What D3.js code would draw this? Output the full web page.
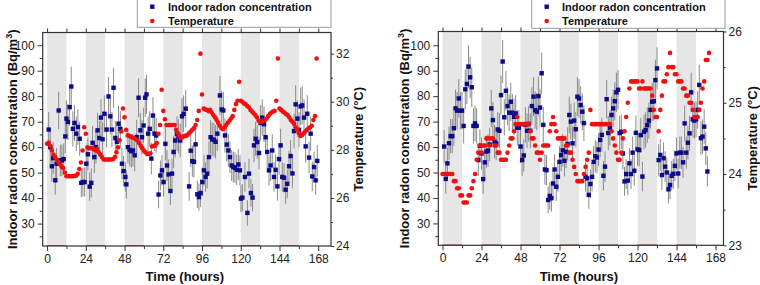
<!DOCTYPE html>
<html><head><meta charset="utf-8">
<script src="https://cdn.jsdelivr.net/npm/d3@7"></script>
<style>
body{margin:0;background:#fff}
svg{display:block}
text{font-family:"Liberation Sans",Arial,Helvetica,sans-serif}
</style>
</head><body>
<svg id="chart" width="760" height="285"></svg>
<script>
// ---------------- DATA ----------------
const timeTicks = [0, 24, 48, 72, 96, 120, 144, 168];
const radonTicks = [30, 40, 50, 60, 70, 80, 90, 100];
const tempTicksLeft = [24, 26, 28, 30, 32];
const tempTicksRight = [23, 24, 25, 26];
const nightBands = [[0,12],[24,36],[48,60],[72,84],[96,108],[120,132],[144,156]];
const legendLabels = ["Indoor radon concentration", "Temperature"];

// Panel A (left)
const radonHoursA = [1,2,3,3.8,5.1,5.9,7.2,8.2,9.2,10.3,11.3,12,12.9,14,15,16,17,18.1,19.1,20.2,
 21.2,22.2,23.3,24.3,25.3,26.4,27.4,28.2,29.3,30.3,31.3,32.4,33.4,34.4,35.5,36.9,38.1,39.2,40.2,41.2,
 42.3,43.3,44.3,45.4,46.4,47.4,48.5,49.1,50.1,51.2,52.2,53.2,54.3,55.5,56.7,57.8,58.8,59.8,60.8,61.6,
 62.6,63.6,64.6,65.6,66.6,67.6,69.1,70.2,71.2,72.2,73.3,74.3,75.3,76.4,77.4,78.4,79.4,80.5,81.4,82.5,
 83.6,84.6,85.9,88,89,90,91,92,93.1,94.1,95.1,96.2,97.2,98.2,99.2,100.3,101.3,102.3,103.4,104.4,
 105.5,107.1,108.2,109.2,110.2,111.3,112.3,113.3,114.4,115.4,116.4,117.5,118.5,119.5,120.1,121,122.6,124.1,125.1,126.3,
 127.3,128.2,129.2,130.2,131.3,132.3,133.3,134.4,135.4,136.4,137.5,138.5,139.5,140.6,141.6,142.7,143.7,144.7,145.7,146.8,
 147.8,148.8,149.9,150.9,152,153,154,155.1,156.1,157.1,158.1,159.2,160.2,161.2,162.3,163.3,164.3,165.4,166.4,167.4];
const radonValuesA = [66.9,60.0,52.5,55.7,47.0,53.5,74.4,54.8,54.8,55.3,64.2,71.2,69.9,75.7,83.8,67.2,69.5,65.3,67.9,63.3,
 46.0,46.3,46.3,53.5,57.2,44.5,46.0,61.7,56.1,60.0,66.6,63.6,71.6,63.1,73.1,66.9,79.9,72.1,66.9,83.3,
 63.6,62.1,69.2,67.2,53.5,50.6,48.3,45.4,60.0,58.9,58.4,58.7,56.8,64.0,79.4,66.6,63.9,68.5,79.4,80.7,
 65.3,67.2,55.5,72.4,65.3,64.6,41.4,48.9,50.9,46.3,61.3,52.8,49.3,42.8,49.6,58.1,62.6,65.3,64.2,62.6,
 72.1,73.1,75.1,44.6,58.6,54.5,54.2,61.1,41.5,40.4,42.0,46.3,50.9,48.3,49.6,56.1,63.9,63.1,62.8,62.1,
 65.3,80.3,74.8,74.4,64.6,61.0,58.7,56.1,52.8,52.2,51.9,51.1,53.2,50.9,39.8,40.2,48.3,34.2,49.6,42.0,
 40.2,60.7,63.3,62.0,57.7,69.5,71.6,69.0,63.9,58.1,50.9,52.8,58.7,48.3,51.1,44.6,55.3,60.7,48.3,48.0,
 43.3,45.6,52.5,56.5,49.7,66.3,76.8,71.2,66.8,76.0,76.4,71.6,60.3,73.1,55.9,65.3,48.5,52.2,47.0,54.6];
const tempValuesA = [28.25,28.3,28.17,27.97,27.8,27.7,27.6,27.5,27.4,27.3,27.24,27.06,26.9,26.9,26.9,26.9,26.9,26.92,26.92,27.0,
 27.2,27.47,27.97,28.94,28.67,28.1,28.07,28.07,28.07,28.03,27.97,28.03,27.9,27.8,27.7,27.6,27.6,27.6,27.6,27.6,
 27.6,27.62,27.7,27.9,28.1,28.4,28.76,29.72,29.35,28.83,28.6,28.57,28.55,28.5,28.48,28.44,28.39,28.28,28.17,28.07,
 27.97,27.9,27.83,27.83,27.86,28.14,28.17,28.17,28.28,28.67,29.03,30.5,29.62,29.27,29.03,29.03,29.03,29.03,29.03,29.03,
 28.83,28.69,28.58,28.48,28.53,28.58,28.58,28.62,28.69,28.76,28.83,28.9,29.03,29.24,29.62,32.0,30.3,29.72,29.68,29.66,
 29.61,29.66,29.55,29.45,29.35,29.24,29.13,29.0,28.9,28.86,28.94,29.03,29.13,29.21,29.3,29.4,29.66,29.9,30.04,30.83,
 30.04,30.0,29.93,29.9,29.82,29.77,29.66,29.59,29.52,29.45,29.35,29.21,29.17,29.17,29.21,29.24,29.3,29.4,29.49,29.55,
 29.59,29.62,30.04,31.8,29.72,29.66,29.59,29.55,29.49,29.45,29.35,29.24,29.17,29.08,28.94,28.83,28.69,28.58,28.62,28.69,
 28.76,28.83,28.9,28.94,29.0,29.24,29.4,31.8];
const tempStartA = 0;

// Panel B (right)
const radonValuesB = [60.2,47.5,53.6,61.5,64.3,64.3,67.4,75.2,74.3,79.1,74.3,74.3,68.3,82.7,84.8,91.6,87.4,83.5,68.3,69.3,
 68.3,54.9,60.5,57.5,47.4,54.0,58.2,58.6,61.0,75.2,70.6,62.1,61.4,66.9,66.4,80.4,93.6,71.7,82.1,76.1,
 73.5,77.8,73.5,71.9,73.2,67.6,67.6,60.2,54.9,56.7,68.7,66.4,69.1,66.4,76.1,79.8,74.5,73.9,80.0,75.5,
 89.0,68.7,51.2,50.9,39.2,40.8,39.9,45.7,51.2,44.4,48.3,54.2,56.8,58.7,54.6,58.1,61.2,72.6,70.0,61.5,
 70.4,67.0,79.8,79.1,76.5,73.9,69.4,48.3,47.7,41.2,45.5,48.3,54.2,56.4,55.9,59.0,62.8,64.8,48.7,52.3,
 78.8,65.5,67.5,72.6,75.2,78.0,81.5,82.5,65.5,66.0,57.5,46.5,49.4,46.8,53.6,49.4,57.8,50.7,65.6,59.1,
 58.8,64.7,48.4,66.0,66.7,68.6,70.4,74.6,77.8,78.0,86.3,90.9,54.9,56.9,49.0,55.6,52.3,50.0,43.4,45.1,
 48.7,49.5,52.6,57.5,49.6,57.8,57.8,54.0,69.3,57.8,61.7,65.4,81.5,70.9,70.4,70.9,74.6,84.4,63.5,64.1,
 68.0,59.5,50.4];
const radonStartB = 1;
const tempValuesB = [24.0,24.0,24.0,24.0,24.0,24.0,24.0,23.9,23.9,23.8,23.8,23.7,23.7,23.6,23.6,23.6,23.7,23.7,23.8,23.9,
 24.0,24.2,24.3,24.4,24.3,24.4,24.4,24.5,24.5,24.4,24.5,24.5,24.4,24.4,24.3,24.3,24.2,24.2,24.2,24.2,
 24.3,24.4,24.5,24.5,24.6,24.7,24.8,24.7,24.7,24.7,24.7,24.7,24.7,24.7,24.6,24.5,24.5,24.4,24.3,24.3,
 24.2,24.3,24.4,24.4,24.4,24.4,24.6,24.7,24.8,24.7,24.6,24.5,24.5,24.5,24.5,24.5,24.4,24.4,24.3,24.3,
 24.2,24.1,24.0,23.9,23.9,23.9,23.9,24.0,24.1,24.2,24.3,24.9,24.7,24.7,24.7,24.7,24.7,24.7,24.7,24.7,
 24.7,24.7,24.7,24.7,24.6,24.5,24.4,24.3,24.2,24.2,24.3,24.5,24.6,24.8,25.0,25.2,25.3,25.3,25.3,25.3,
 25.3,25.2,25.2,25.3,25.2,25.2,25.2,25.2,25.2,25.1,24.9,24.8,24.8,24.6,24.9,25.1,25.3,25.3,25.4,25.5,
 25.7,25.5,25.5,25.4,25.4,25.3,25.3,25.3,25.2,25.2,25.1,25.1,25.0,25.0,24.9,24.8,24.8,24.8,24.9,25.0,
 25.2,25.3,25.6,25.6,25.7];
const tempStartB = 0;

const radonErrAbs = 3.0, radonErrRel = 0.058;

// ---------------- DRAW ----------------
const svg = d3.select("#chart");
const panels = [
  { radonHours: radonHoursA, radon: radonValuesA, tempStart: tempStartA, temp: tempValuesA, tempTicks: tempTicksLeft,
    left: 42.7, right: 331, top: 32.5, bottom: 246,
    xDom: [-2.7, 175.9], yDom: [21.2, 105], tDom: [24, 32.88],
    yTitleX: 12, tTitleX: 358, legend: {x0: 137.3, x1: 331, y1: 27.3, mx: 152.3, tx: 168} },
  { radonHours: radonValuesB.map((_, i) => i + radonStartB), radon: radonValuesB, tempStart: tempStartB, temp: tempValuesB, tempTicks: tempTicksRight,
    left: 438.3, right: 723.5, top: 31.5, bottom: 245.3,
    xDom: [-2.6, 172.9], yDom: [21.4, 105.4], tDom: [23, 26],
    yTitleX: 404, tTitleX: 752, legend: {x0: 531.7, x1: 725, y1: 28.3, mx: 546.7, tx: 562} }
];

const axisColor = "#333";
panels.forEach(p => {
  const x = d3.scaleLinear().domain(p.xDom).range([p.left, p.right]);
  const y = d3.scaleLinear().domain(p.yDom).range([p.bottom, p.top]);
  const t = d3.scaleLinear().domain(p.tDom).range([p.bottom, p.top]);
  const g = svg.append("g");

  // night bands
  g.selectAll("rect.band").data(nightBands).join("rect")
    .attr("x", d => x(d[0])).attr("width", d => x(d[1]) - x(d[0]))
    .attr("y", p.top).attr("height", p.bottom - p.top)
    .attr("fill", "#e6e6e6");
  g.selectAll("line.bandEdge").data(nightBands).join("line")
    .attr("x1", d => x(d[0])).attr("x2", d => x(d[1]))
    .attr("y1", p.bottom - 0.5).attr("y2", p.bottom - 0.5)
    .attr("stroke", "#c46a6a").attr("stroke-width", 1);

  const radonData = p.radon.map((v, i) => ({h: p.radonHours[i], v}));
  // error bars
  g.selectAll("line.err").data(radonData).join("line")
    .attr("x1", d => x(d.h)).attr("x2", d => x(d.h))
    .attr("y1", d => y(d.v + radonErrAbs + radonErrRel * d.v))
    .attr("y2", d => y(d.v - radonErrAbs - radonErrRel * d.v))
    .attr("stroke", "#8a8a8a").attr("stroke-width", 1);
  // radon squares
  g.selectAll("rect.pt").data(radonData).join("rect")
    .attr("x", d => x(d.h) - 2.2).attr("y", d => y(d.v) - 2.2)
    .attr("width", 4.4).attr("height", 4.4).attr("fill", "#0c0c8a");
  // temperature circles
  const tempData = p.temp.map((v, i) => ({h: i + p.tempStart, v}));
  g.selectAll("circle.tp").data(tempData).join("circle")
    .attr("cx", d => x(d.h)).attr("cy", d => t(d.v)).attr("r", 2.3)
    .attr("fill", "#f01010");

  // axes
  const styleAxis = sel => {
    sel.select(".domain").remove();
    sel.selectAll("line").attr("stroke", axisColor).attr("stroke-width", 1);
    sel.selectAll("text").attr("fill", "#222").attr("font-size", 12).style("font-family", "'Liberation Sans',Arial,sans-serif");
  };
  const minorX = d3.range(12, 169, 24);
  g.append("g").attr("transform", `translate(0,${p.bottom})`)
    .call(d3.axisBottom(x).tickValues(timeTicks).tickSize(5).tickPadding(3)).call(styleAxis);
  g.append("g").attr("transform", `translate(0,${p.bottom})`)
    .call(d3.axisBottom(x).tickValues(minorX).tickSize(3).tickFormat("")).call(styleAxis);
  g.append("g").attr("transform", `translate(0,${p.top})`)
    .call(d3.axisTop(x).tickValues(timeTicks.concat(minorX)).tickSize(4).tickFormat("")).call(styleAxis);
  g.append("g").attr("transform", `translate(${p.left},0)`)
    .call(d3.axisLeft(y).tickValues(radonTicks).tickSize(5).tickPadding(3)).call(styleAxis);
  g.append("g").attr("transform", `translate(${p.left},0)`)
    .call(d3.axisLeft(y).tickValues(radonTicks.map(v => v - 5)).tickSize(3).tickFormat("")).call(styleAxis);
  g.append("g").attr("transform", `translate(${p.right},0)`)
    .call(d3.axisRight(t).tickValues(p.tempTicks).tickFormat(d3.format("d")).tickSize(3).tickPadding(2)).call(styleAxis);
  const tStep = p.tempTicks[1] - p.tempTicks[0];
  g.append("g").attr("transform", `translate(${p.right},0)`)
    .call(d3.axisRight(t).tickValues(p.tempTicks.slice(0, -1).map(v => v + tStep / 2)).tickSize(2).tickFormat("")).call(styleAxis);

  // frame
  g.append("rect").attr("x", p.left).attr("y", p.top)
    .attr("width", p.right - p.left).attr("height", p.bottom - p.top)
    .attr("fill", "none").attr("stroke", axisColor).attr("stroke-width", 1.2);

  // titles
  g.append("text").attr("x", (p.left + p.right) / 2 - 2).attr("y", 281)
    .attr("text-anchor", "middle").attr("font-size", 13).attr("font-weight", "bold").attr("fill", "#111")
    .text("Time (hours)");
  const yt = g.append("text").attr("transform", `translate(${p.yTitleX + 4.5},${(p.top + p.bottom) / 2}) rotate(-90)`)
    .attr("text-anchor", "middle").attr("font-size", 13).attr("font-weight", "bold").attr("fill", "#111");
  yt.append("tspan").text("Indoor radon concentration (Bq/m");
  yt.append("tspan").attr("font-size", 9).attr("dy", -5).text("3");
  yt.append("tspan").attr("dy", 5).text(")");
  g.append("text").attr("transform", `translate(${p.tTitleX + 4.5},${(p.top + p.bottom) / 2}) rotate(-90)`)
    .attr("text-anchor", "middle").attr("font-size", 13).attr("font-weight", "bold").attr("fill", "#111")
    .text("Temperature (°C)");

  // legend
  const L = p.legend;
  g.append("rect").attr("x", L.x0).attr("y", -1).attr("width", L.x1 - L.x0).attr("height", L.y1 + 1)
    .attr("fill", "#fff").attr("stroke", "#999").attr("stroke-width", 1);
  g.append("rect").attr("x", L.mx - 2.2).attr("y", 6.7 - 2.2).attr("width", 4.4).attr("height", 4.4).attr("fill", "#0c0c8a");
  g.append("circle").attr("cx", L.mx).attr("cy", 21).attr("r", 2.3).attr("fill", "#f01010");
  g.append("text").attr("x", L.tx).attr("y", 10.6).attr("font-size", 11).attr("font-weight", "bold").attr("fill", "#111").text(legendLabels[0]);
  g.append("text").attr("x", L.tx).attr("y", 24.9).attr("font-size", 11).attr("font-weight", "bold").attr("fill", "#111").text(legendLabels[1]);
});
</script>
</body></html>
